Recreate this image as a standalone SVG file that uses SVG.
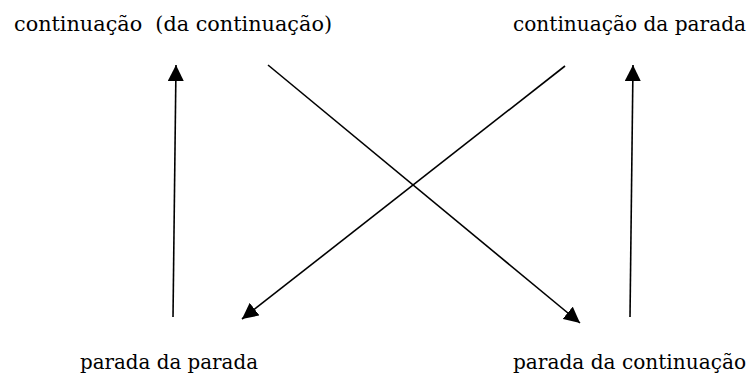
<svg xmlns="http://www.w3.org/2000/svg" width="752" height="380" viewBox="0 0 752 380">
<style>
text{font-family:"DejaVu Serif",serif;font-size:19.5px;fill:#000;white-space:pre}
.con{stroke:#000;stroke-width:1.6;fill:none;marker-end:url(#ah)}
</style>
<defs>
<marker id="ah" markerUnits="userSpaceOnUse" markerWidth="18" markerHeight="16" refX="16" refY="8" orient="auto">
<path d="M0,0 L16,8 L0,16 Z" fill="#000"/>
</marker>
</defs>
<rect width="752" height="380" fill="#fff"/>
<g id="n-cont-cont"><text x="14" y="31" textLength="318" lengthAdjust="spacingAndGlyphs" xml:space="preserve">continuação  (da continuação)</text></g>
<g id="n-cont-parada"><text x="513" y="31" textLength="233" lengthAdjust="spacingAndGlyphs">continuação da parada</text></g>
<g id="n-parada-parada"><text x="80" y="369" textLength="178" lengthAdjust="spacingAndGlyphs">parada da parada</text></g>
<g id="n-parada-cont"><text x="513" y="369" textLength="233" lengthAdjust="spacingAndGlyphs">parada da continuação</text></g>
<g id="connectors">
<line class="con" x1="173" y1="317" x2="176" y2="65"/>
<line class="con" x1="630" y1="317" x2="633" y2="65"/>
<line class="con" x1="268" y1="65" x2="580" y2="323"/>
<line class="con" x1="565" y1="66" x2="242" y2="319"/>
</g>
</svg>
